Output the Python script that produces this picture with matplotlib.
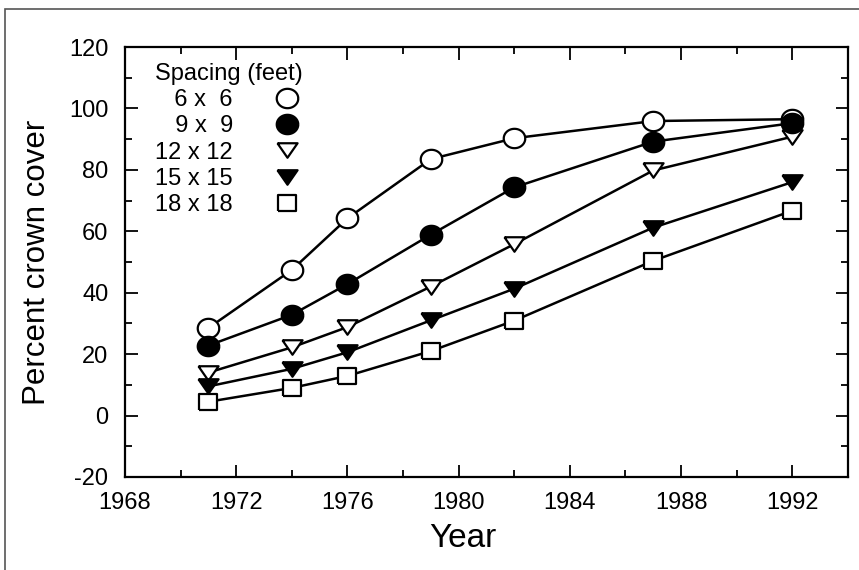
import numpy as np
import matplotlib.pyplot as plt
from matplotlib.lines import Line2D
from matplotlib.patches import Rectangle
from matplotlib.ticker import MultipleLocator

plt.rcParams['font.family'] = ['Liberation Sans', 'DejaVu Sans']
plt.rcParams['axes.unicode_minus'] = False

# Data
years = [1971, 1974, 1976, 1979, 1982, 1987, 1992]
spacing_labels = ['  6 x  6', '  9 x  9', '12 x 12', '15 x 15', '18 x 18']
cover_6x6 = [28.5, 47.4, 64.2, 83.5, 90.3, 95.9, 96.5]
cover_9x9 = [22.8, 32.8, 42.8, 58.9, 74.3, 89.2, 95.2]
cover_12x12 = [14.0, 22.2, 28.8, 42.0, 55.8, 79.8, 90.8]
cover_15x15 = [9.5, 15.2, 20.6, 31.0, 41.3, 61.2, 76.0]
cover_18x18 = [4.5, 9.0, 12.9, 21.0, 30.9, 50.4, 66.7]

# marker shapes (the original symbols are a bit wider than tall)
t = np.linspace(0, 2 * np.pi, 60)
ellipse = list(zip(np.cos(t), 0.9 * np.sin(t)))
tri_down = [(-1, 0.72), (1, 0.72), (0, -0.72), (-1, 0.72)]
box = [(-1, -0.85), (1, -0.85), (1, 0.85), (-1, 0.85), (-1, -0.85)]

series = [cover_6x6, cover_9x9, cover_12x12, cover_15x15, cover_18x18]
markers = [ellipse, ellipse, tri_down, tri_down, box]
fills = ['white', 'black', 'white', 'black', 'white']
sizes = [15.5, 15.5, 14.5, 14.5, 13]
zorders = [2, 4, 3, 5, 6]

fig = plt.figure(figsize=(8.59, 5.70), dpi=100)
ax = fig.add_axes([0.1455, 0.1632, 0.8415, 0.7543])

# figure border (only top and left edges fall inside the image)
fig.patches.append(Rectangle((5 / 859, -0.1), 1.2, 1.1 - 9 / 570,
                             transform=fig.transFigure, fill=False,
                             edgecolor='#555555', linewidth=1.2))

for vals, m, fc, ms, z in zip(series, markers, fills, sizes, zorders):
    ax.plot(years, vals, color='black', linewidth=1.8, marker=m,
            markersize=ms, markerfacecolor=fc, markeredgecolor='black',
            markeredgewidth=1.6, zorder=z)

ax.set_xlim(1968, 1994)
ax.set_ylim(-20, 120)
ax.set_xticks(range(1968, 1993, 4))
ax.xaxis.set_minor_locator(MultipleLocator(2))
ax.yaxis.set_major_locator(MultipleLocator(20))
ax.yaxis.set_minor_locator(MultipleLocator(10))
ax.tick_params(which='both', direction='in', top=True, right=True,
               width=1.3, labelsize=17)
ax.tick_params(which='major', length=9)
ax.tick_params(which='minor', length=5)
ax.tick_params(axis='y', pad=12)
ax.tick_params(axis='x', pad=11)
for s in ax.spines.values():
    s.set_linewidth(1.6)

ax.set_xlabel('Year', fontsize=24, labelpad=6)
ax.xaxis.set_label_coords(0.468, -0.108)
ax.set_ylabel('Percent crown cover', fontsize=22.5, labelpad=12.5)

# legend
handles = [Line2D([], [], linestyle='none', marker=m, markersize=ms,
                  markerfacecolor=fc, markeredgecolor='black',
                  markeredgewidth=1.6)
           for m, fc, ms in zip(markers, fills, sizes)]
leg = ax.legend(handles, spacing_labels, title='Spacing (feet)',
                loc='upper left', bbox_to_anchor=(0.042, 0.963),
                markerfirst=False, frameon=False, fontsize=17,
                title_fontsize=17, handlelength=1.0, handletextpad=1.8,
                labelspacing=0.18, borderaxespad=0.0, borderpad=0.0)
leg._legend_box.align = 'left'

fig.savefig('out.png', dpi=100)
